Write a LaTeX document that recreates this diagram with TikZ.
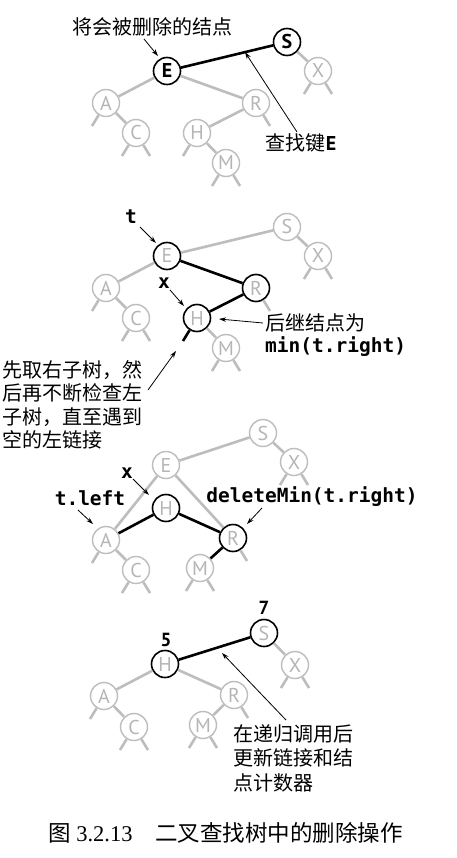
\documentclass[tikz,border=0pt]{standalone}
\usepackage{fontspec}
\setmainfont{Liberation Serif}
\setsansfont{PT Sans}
\setmonofont{DejaVu Sans Mono}
\newfontfamily\cjk{Noto Sans CJK SC}
\usetikzlibrary{arrows.meta,calc}
\definecolor{lg}{HTML}{BDBDBD}
\definecolor{lgt}{HTML}{B5B5B5}
\tikzset{
 nd/.style={circle,draw=lg,line width=1.4pt,minimum size=27pt,inner sep=0pt,text=lgt,font=\sffamily\fontsize{20}{20}\selectfont},
 hl/.style={draw=black,line width=1.6pt},
 bk/.style={text=black,font=\sffamily\bfseries\fontsize{20}{20}\selectfont},
 ge/.style={draw=lg,line width=2.6pt},
 be/.style={draw=black,line width=2.6pt},
 ar/.style={draw=black,line width=0.8pt,-{Stealth[length=7pt,width=4.5pt]}},
 cj/.style={font=\cjk\fontsize{20}{23.5}\selectfont,inner sep=0pt},
 cd/.style={font=\ttfamily\bfseries\fontsize{19.5}{20}\selectfont,inner sep=0pt},
 num/.style={font=\sffamily\bfseries\fontsize{19}{19}\selectfont,inner sep=0pt},
}
\newcommand\stubL[2][ge]{\coordinate (#2-l) at ($(#2)+(-14,23)$); \draw[#1] (#2) -- (#2-l);}
\newcommand\stubR[2][ge]{\coordinate (#2-r) at ($(#2)+(14,23)$); \draw[#1] (#2) -- (#2-r);}
\begin{document}
\begin{tikzpicture}[x=1pt,y=-1pt]
\useasboundingbox[fill=white] (0,0) rectangle (457,858);

% ---------- Panel 1 ----------
\node[nd,hl,bk] (S1) at (287,42) {S};
\node[nd,hl,bk] (E1) at (167,71) {E};
\node[nd] (X1) at (318,71) {X};
\node[nd] (A1) at (106,103) {A};
\node[nd] (R1) at (256,103) {R};
\node[nd] (C1) at (136,133) {C};
\node[nd] (H1) at (197,133) {H};
\node[nd] (M1) at (226,163) {M};
\draw[be] (E1) -- (S1);
\draw[ge] (S1) -- (X1);
\draw[ge] (E1) -- (A1);
\draw[ge] (E1) -- (R1);
\draw[ge] (A1) -- (C1);
\draw[ge] (R1) -- (H1);
\draw[ge] (H1) -- (M1);
\stubL{A1} \stubL{C1} \stubR{C1} \stubL{X1} \stubR{X1} \stubR{R1} \stubL{H1} \stubL{M1} \stubR{M1}
\node[cj] (t1) at (152,27) {将会被删除的结点};
\coordinate (t1a) at (144,39);
\coordinate (t1b) at (158,56);
\draw[ar] (t1a) -- (t1b);
\node[cj] (k1) at (301,143) {查找键{\sffamily\bfseries E}};
\coordinate (k1a) at (297,132);
\coordinate (k1b) at ($(E1)!0.65!(S1)$);
\draw[ar] (k1a) -- (k1b);

% ---------- Panel 2 ----------
\node[nd] (S2) at (287,227) {S};
\node[nd,hl] (E2) at (167,256) {E};
\node[nd] (X2) at (318,256) {X};
\node[nd] (A2) at (106,288) {A};
\node[nd,hl] (R2) at (256,288) {R};
\node[nd] (C2) at (136,318) {C};
\node[nd,hl] (H2) at (197,318) {H};
\node[nd] (M2) at (226,348) {M};
\draw[ge] (E2) -- (S2);
\draw[ge] (S2) -- (X2);
\draw[ge] (E2) -- (A2);
\draw[be] (E2) -- (R2);
\draw[ge] (A2) -- (C2);
\draw[be] (R2) -- (H2);
\draw[ge] (H2) -- (M2);
\stubL{A2} \stubL{C2} \stubR{C2} \stubL{X2} \stubR{X2} \stubR{R2} \stubL[be]{H2} \stubL{M2} \stubR{M2}
\node[cd] (tl2) at (131,217) {t};
\coordinate (tl2a) at (140,227);
\coordinate (tl2b) at (156,243);
\draw[ar] (tl2a) -- (tl2b);
\node[cd] (xl2) at (164,283) {x};
\coordinate (xl2a) at (170,290);
\coordinate (xl2b) at (184,306);
\draw[ar] (xl2a) -- (xl2b);
\node[cj,anchor=west] (sc2) at (265,323) {后继结点为};
\node[cd,anchor=west] (mn2) at (265,347) {min(t.right)};
\coordinate (sc2a) at (263,323);
\coordinate (sc2b) at (219,319);
\draw[ar] (sc2a) -- (sc2b);
\node[cj,anchor=north west,align=left] (lb2) at (2,360) {先取右子树，然\\后再不断检查左\\子树，直至遇到\\空的左链接};
\coordinate (lb2a) at (148,390);
\coordinate (lb2b) at (176,351);
\draw[ar] (lb2a) -- (lb2b);

% ---------- Panel 3 ----------
\node[nd] (S3) at (263,433) {S};
\node[nd] (E3) at (166,465) {E};
\node[nd] (X3) at (294,462) {X};
\node[nd,hl] (H3) at (166,508) {H};
\node[nd] (A3) at (106,540) {A};
\node[nd,hl] (R3) at (233,538) {R};
\node[nd] (C3) at (136,570) {C};
\node[nd] (M3) at (200,568) {M};
\draw[ge] (E3) -- (S3);
\draw[ge] (S3) -- (X3);
\draw[ge] (E3) -- (A3);
\draw[ge] (E3) -- (R3);
\draw[ge] (A3) -- (C3);
\draw[be] (H3) -- (A3);
\draw[be] (H3) -- (R3);
\draw[be] (R3) -- (M3);
\stubL{A3} \stubL{C3} \stubR{C3} \stubL{X3} \stubR{X3} \stubR{R3} \stubL{M3} \stubR{M3}
\node[cd] (xl3) at (127,473) {x};
\coordinate (xl3a) at (133,479);
\coordinate (xl3b) at (149,495);
\draw[ar] (xl3a) -- (xl3b);
\node[cd] (tl3) at (90,498) {t.left};
\coordinate (tl3a) at (78,510);
\coordinate (tl3b) at (93,524);
\draw[ar] (tl3a) -- (tl3b);
\node[cd] (dm3) at (312,497) {deleteMin(t.right)};
\coordinate (dm3a) at (262,508);
\coordinate (dm3b) at (247,524);
\draw[ar] (dm3a) -- (dm3b);

% ---------- Panel 4 ----------
\node[nd,hl] (S4) at (264,633) {S};
\node[nd,hl] (H4) at (165,664) {H};
\node[nd] (X4) at (295,665) {X};
\node[nd] (A4) at (104,696) {A};
\node[nd] (R4) at (234,695) {R};
\node[nd] (C4) at (134,727) {C};
\node[nd] (M4) at (203,725) {M};
\draw[be] (H4) -- (S4);
\draw[ge] (S4) -- (X4);
\draw[ge] (H4) -- (A4);
\draw[ge] (H4) -- (R4);
\draw[ge] (A4) -- (C4);
\draw[ge] (R4) -- (M4);
\stubL{A4} \stubL{C4} \stubR{C4} \stubL{X4} \stubR{X4} \stubR{R4} \stubL{M4} \stubR{M4}
\node[num] (n7) at (264,608) {7};
\node[num] (n5) at (166,640) {5};
\node[cj,anchor=north west,align=left,font=\cjk\fontsize{20}{24.5}\selectfont] (rb4) at (233,724) {在递归调用后\\更新链接和结\\点计数器};
\coordinate (rb4a) at (286,720);
\coordinate (rb4b) at (222,653);
\draw[ar] (rb4a) -- (rb4b);

% ---------- Caption ----------
\node[anchor=west,inner sep=0pt,font=\fontsize{22.5}{22.5}\selectfont] (cap1) at (48,833) {{\cjk 图} 3.2.13};
\node[anchor=west,inner sep=0pt,font=\cjk\fontsize{22.5}{22.5}\selectfont] (cap2) at (155,833) {二叉查找树中的删除操作};
\end{tikzpicture}
\end{document}
